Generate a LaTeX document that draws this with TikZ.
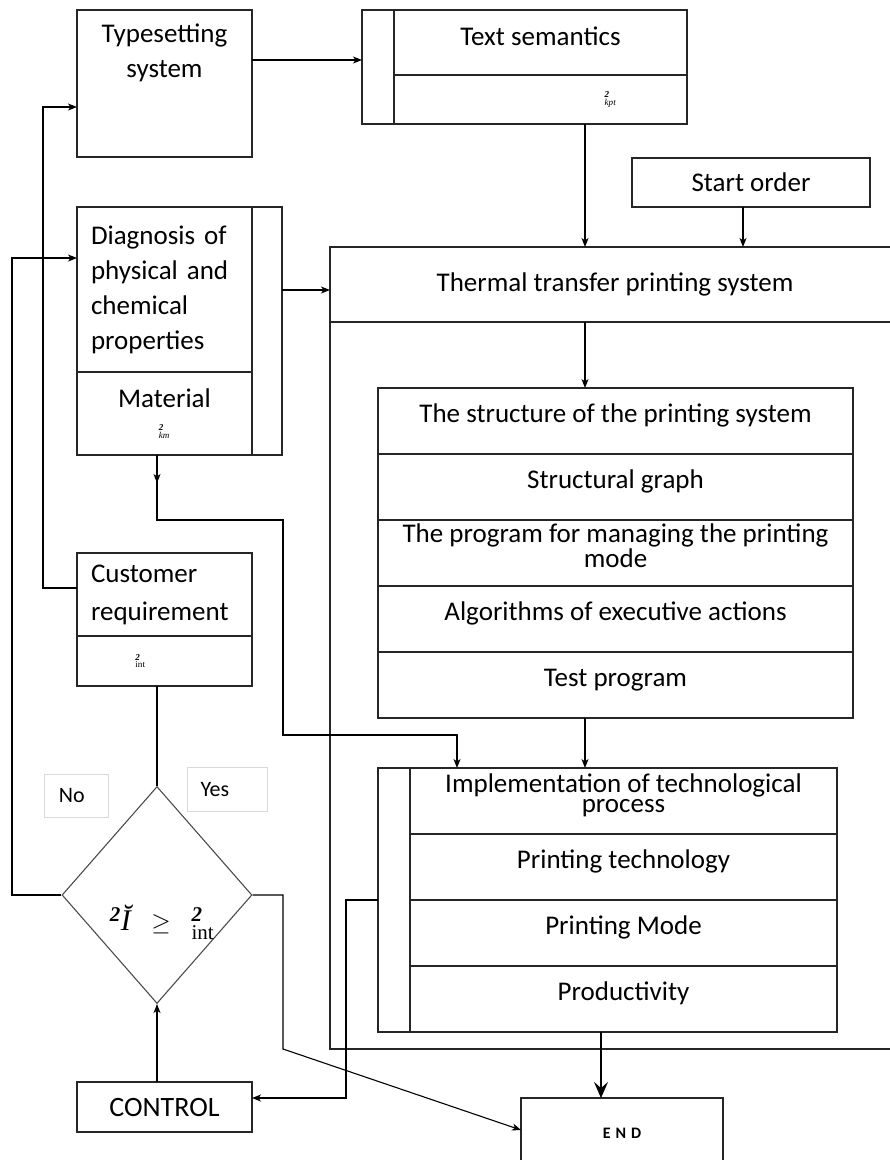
\documentclass[tikz,border=0pt]{standalone}
\usepackage{amsmath}
\usepackage{fontspec}
\setmainfont{Carlito}
\newfontfamily\tnr{Liberation Serif}
\usetikzlibrary{arrows.meta, positioning, shapes.geometric}

\tikzset{
  box/.style={draw=black!85, line width=1.2pt, inner sep=0pt, outer sep=0pt, align=center,
    font=\fontsize{27}{35}\selectfont},
  row/.style={box, minimum height=66, text depth=15pt,
    font=\fontsize{27}{20}\selectfont},
  leftbox/.style={box, align=left, inner xsep=14pt, text width=147},
  tag/.style={draw=black!15, line width=0.8pt, inner sep=0pt,
    minimum width=64, minimum height=43, font=\fontsize{22}{22}\selectfont}
}
\newcommand{\smallsub}[1]{{\fontsize{13}{13}\selectfont$^{\text{\tnr\itshape\bfseries 2}}_{\text{\tnr #1}}$}}

\begin{document}
\begin{tikzpicture}[x=1pt,y=-1pt,>={Stealth[length=9pt,width=7pt,inset=2.5pt]},line width=1.1pt]
\useasboundingbox (0,0) rectangle (890,1160);
\clip (0,0) rectangle (890,1160);

% left column
\node[box, anchor=north west, minimum width=175, minimum height=147] (typeset) at (77,10) {};
\node[box, draw=none, below=14pt of typeset.north] (typesetlbl) {Typesetting\\system};

\node[leftbox, anchor=north west, minimum width=175, minimum height=165] (diag) at (77,207)
  {Diagnosis of\\physical and\\chemical\\properties};
\node[box, anchor=north west, minimum width=175, minimum height=83, font=\fontsize{27}{27}\selectfont] (mat) at (77,372)
  {Material\\\smallsub{\itshape km}};
\node[box, anchor=north west, minimum width=30, minimum height=248] (diagside) at (252,207) {};

\node[leftbox, anchor=north west, minimum width=175, minimum height=83, font=\fontsize{27}{38}\selectfont] (cust) at (77,553)
  {Customer\\requirement};
\node[box, anchor=north west, minimum width=175, minimum height=50] (custsub) at (77,636)
  {\hspace*{-48pt}\smallsub{int}};

\node[draw=black!70, line width=1.1pt, diamond, minimum width=190, minimum height=217, inner sep=0pt] (dia) at (157,895) {};
\node[font=\fontsize{30}{30}\selectfont] (dialbl) at (162,922)
  {${}^{\text{\tnr\itshape\bfseries 2}}\text{\tnr\itshape Ĭ}\;\;\geq\;\;{}^{\text{\tnr\itshape\bfseries 2}}_{\text{\tnr int}}$};

\node[tag, anchor=north west] (no) at (44,774) {\hspace*{-9pt}No};
\node[tag, anchor=north west, minimum width=80, minimum height=44] (yes) at (187,767) {\hspace*{-25pt}Yes};

\node[box, anchor=north west, minimum width=175, minimum height=50, font=\fontsize{28}{28}\selectfont] (ctrl) at (77,1082) {CONTROL};

% top right
\node[box, anchor=north west, minimum width=32, minimum height=114] (semside) at (362,10) {};
\node[box, anchor=north west, minimum width=293, minimum height=65, text depth=13pt] (semtop) at (394,10) {Text semantics};
\node[box, anchor=north west, minimum width=293, minimum height=49] (sembot) at (394,75)
  {\hspace*{140pt}\smallsub{\itshape kpt}};

\node[box, anchor=north west, minimum width=238, minimum height=49] (start) at (632,158) {Start order};

\node[box, anchor=north west, minimum width=570, minimum height=75] (thermal) at (330,247)
  {Thermal transfer printing system};
\draw[draw=black!85, line width=1.2pt] (thermal.south west) -- (330,1049) -- (900,1049);

% printing system
\node[row, anchor=north west, minimum width=475] (s1) at (378,388) {The structure of the printing system};
\node[row, minimum width=475, below=0pt of s1] (s2) {Structural graph};
\node[row, minimum width=475, below=0pt of s2] (s3) {The program for managing the printing\\mode};
\node[row, minimum width=475, below=0pt of s3] (s4) {Algorithms of executive actions};
\node[row, minimum width=475, below=0pt of s4] (s5) {Test program};

% technological process
\node[box, anchor=north west, minimum width=32, minimum height=264] (iside) at (378,768) {};
\node[row, anchor=north west, minimum width=427] (i1) at (410,768) {Implementation of technological\\process};
\node[row, minimum width=427, below=0pt of i1] (i2) {Printing technology};
\node[row, minimum width=427, below=0pt of i2] (i3) {Printing Mode};
\node[row, minimum width=427, below=0pt of i3] (i4) {Productivity};

\node[box, anchor=north west, minimum width=202, minimum height=70, font=\fontsize{16}{16}\selectfont\bfseries] (endbox) at (521,1098)
  {E\hspace{5pt}N\hspace{5pt}D};

% connectors
\draw[->] (typeset.east |- 0,60) -- (semside.west |- 0,60);
\draw[->] (sembot.south -| 585,0) -- (thermal.north -| 585,0);
\draw[->] ([xshift=-8pt]start.south) -- ([xshift=-8pt]start.south |- thermal.north);
\draw[->] (diagside.east |- 0,290) -- (thermal.west |- 0,290);
\draw[->] (thermal.south -| 585,0) -- (s1.north -| 585,0);
\draw[->] (s5.south -| 585,0) -- (i1.north -| 585,0);
\draw[-{Stealth[length=16pt,width=14pt,inset=6pt]}] (i4.south -| 601,0) -- (endbox.north -| 601,0);

\draw[->] (mat.south -| 157,0) -- ++(0,28);
\draw[->] (mat.south -| 157,0) -- (157,520) -| (283,735) -| (i1.north -| 457,0);

\draw[->] (cust.west |- 0,588) -| (43,107) -- (typeset.west |- 0,107);
\draw (custsub.south -| dia.north) -- (dia.north);
\draw[->] (dia.west) -| (12,258) -- (diag.west |- 0,258);
\draw[->] (dia.east) -| (283,1049) -- (endbox.west |- 0,1130);
\draw[->] (iside.west |- 0,900) -| (346,1098) -- (ctrl.east |- 0,1098);
\draw[->] (ctrl.north -| dia.south) -- (dia.south);
\end{tikzpicture}
\end{document}
